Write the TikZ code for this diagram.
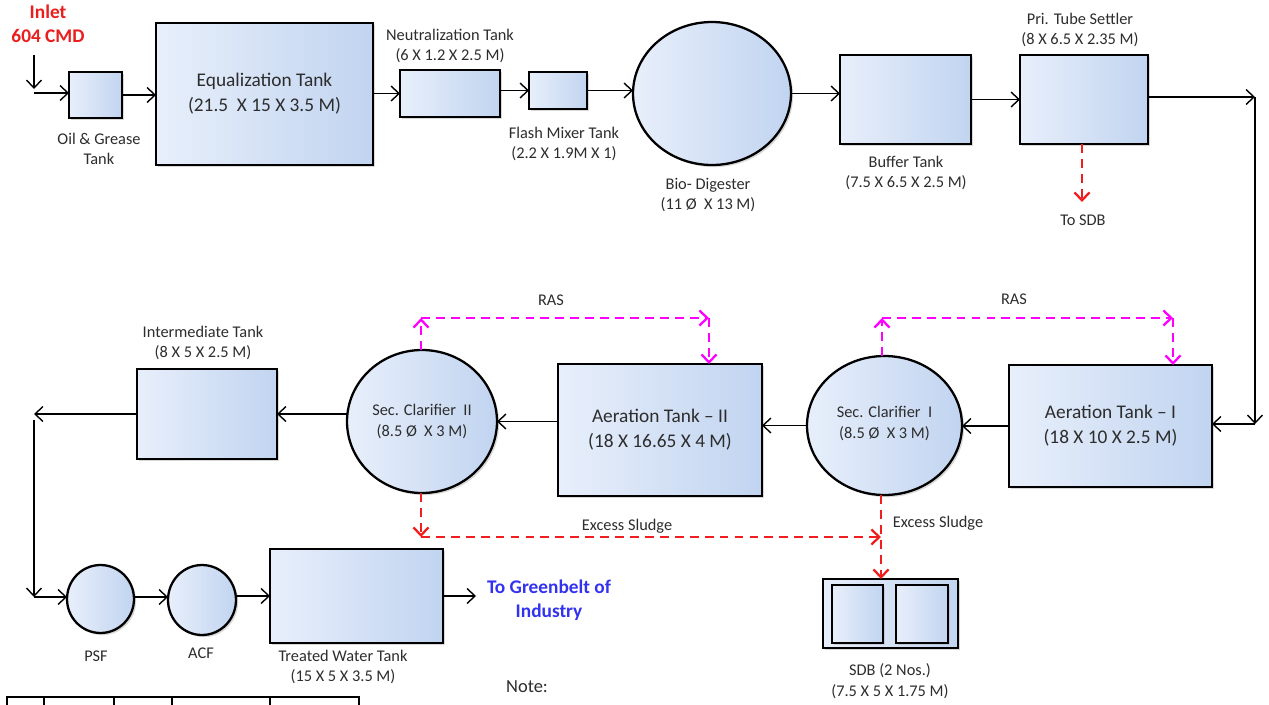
\documentclass[tikz,border=0pt]{standalone}
\usepackage{fontspec}
\setmainfont{Carlito}
\usetikzlibrary{arrows.meta,shapes.geometric,shadows}
\definecolor{boxL}{RGB}{232,239,251}
\definecolor{boxR}{RGB}{193,212,240}
\definecolor{txt}{RGB}{45,45,45}
\definecolor{sludge}{RGB}{240,30,30}
\definecolor{ras}{RGB}{255,0,255}
\definecolor{inletred}{RGB}{235,30,30}
\definecolor{greenblue}{RGB}{50,50,240}
\newcommand\lblfont{\fontsize{9.3pt}{11.6pt}\selectfont}
\newcommand\tankfont{\fontsize{11pt}{14.2pt}\selectfont}
\newcommand\boldfont{\fontsize{11pt}{13.4pt}\selectfont\bfseries}
\tikzset{
  shad/.style={drop shadow={shadow xshift=1.2pt, shadow yshift=-1.2pt, fill=black!30, opacity=0.5}},
  tank/.style={rectangle, draw=black, line width=1.3pt, left color=boxL, right color=boxR,
    inner sep=0pt, outer sep=0pt, font=\tankfont, text=txt, align=center, shad},
  vessel/.style={ellipse, draw=black, line width=1.3pt, left color=boxL, right color=boxR,
    inner sep=0pt, outer sep=0pt, font=\lblfont, text=txt, align=center, shad},
  lbl/.style={font=\lblfont, text=txt, align=center, inner sep=0pt},
  arr/.style={draw=black, line width=0.8pt, -{Straight Barb[length=4.5pt,width=8.5pt]}},
  sl/.style={draw=sludge, line width=1.4pt, dash pattern=on 5pt off 3.5pt,
    -{Straight Barb[length=4.5pt,width=8.5pt,line width=1.3pt]}},
  rs/.style={draw=ras, line width=1.4pt, dash pattern=on 5pt off 3.5pt,
    -{Straight Barb[length=4.5pt,width=8.5pt,line width=1.3pt]}},
}
\begin{document}
\begin{tikzpicture}[x=0.02cm, y=-0.02cm]
\useasboundingbox (0,0) rectangle (1269,704);
\fill[white] (0,0) rectangle (1269,704);

% ---------- top row ----------
\node[tank, minimum width=1.06cm, minimum height=0.92cm] (oil) at (95.5,95) {};
\node[tank, minimum width=4.34cm, minimum height=2.84cm] (eq) at (264.5,94)
  {Equalization Tank\\(21.5~ X 15 X 3.5 M)};
\node[tank, minimum width=2.0cm, minimum height=0.94cm] (neut) at (450,93.5) {};
\node[tank, minimum width=1.16cm, minimum height=0.74cm] (flash) at (558,90.5) {};
\node[vessel, minimum width=3.16cm, minimum height=2.86cm] (bio) at (712,93.5) {};
\node[tank, minimum width=2.62cm, minimum height=1.78cm] (buffer) at (905.5,99.5) {};
\node[tank, minimum width=2.56cm, minimum height=1.78cm] (settler) at (1084,99.5) {};

\node[font=\boldfont, text=inletred, align=center, inner sep=0pt] (inlet) at (48,24) {Inlet\\604 CMD};
\node[lbl] (oillbl) at (99,149) {Oil \& Grease\\Tank};
\node[lbl] (neutlbl) at (450,46) {Neutralization Tank\\(6 X 1.2 X 2.5 M)};
\node[lbl] (flashlbl) at (564,144) {Flash Mixer Tank\\(2.2 X 1.9M X 1)};
\node[lbl] (biolbl) at (708,195) {Bio- Digester\\(11 Ø~ X 13 M)};
\node[lbl] (bufferlbl) at (906,173) {Buffer Tank\\(7.5 X 6.5 X 2.5 M)};
\node[lbl] (settlerlbl) at (1080,30) {Pri. Tube Settler\\(8 X 6.5 X 2.35 M)};
\node[lbl] (tosdb) at (1083,220) {To SDB};

\coordinate (in1) at (34,55);
\coordinate (in2) at (34,89);
\coordinate (in3) at (34,93);
\draw[arr] (in1) -- (in2);
\draw[arr] (in3) -- (in3 -| oil.west);
\draw[arr] (oil.east) -- (oil.east -| eq.west);
\draw[arr] (neut.west -| eq.east) -- (neut.west);
\draw[arr] (flash.west -| neut.east) -- (flash.west);
\draw[arr] (flash.east) -- (flash.east -| bio.west);
\draw[arr] (bio.east) -- (bio.east -| buffer.west);
\draw[arr] (buffer.east) -- (settler.west);
\coordinate (sd1) at (1082,202);
\draw[sl] (settler.south -| sd1) -- (sd1);

\coordinate (c1) at (1255,97);
\coordinate (c2) at (1255,424);
\draw[arr] (c1 -| settler.east) -- (c1);
\draw[arr] (c1) -- (c2);

% ---------- middle row ----------
\node[tank, minimum width=4.06cm, minimum height=2.44cm] (aer1) at (1110.5,426)
  {Aeration Tank – I\\(18 X 10 X 2.5 M)};
\node[vessel, minimum width=3.10cm, minimum height=2.78cm] (clar1) at (884.5,425.5)
  {\raisebox{4pt}{\shortstack{Sec. Clarifier~ I\\[2pt](8.5 Ø~ X 3 M)}}};
\node[tank, minimum width=4.08cm, minimum height=2.64cm] (aer2) at (660,430)
  {Aeration Tank – II\\(18 X 16.65 X 4 M)};
\node[vessel, minimum width=3.0cm, minimum height=2.86cm] (clar2) at (422,421.5)
  {Sec. Clarifier~ II\\(8.5 Ø~ X 3 M)};
\node[tank, minimum width=2.8cm, minimum height=1.8cm] (inter) at (207,414) {};
\node[lbl] (interlbl) at (203,343) {Intermediate Tank\\(8 X 5 X 2.5 M)};

\draw[arr] (c2) -- (c2 -| aer1.east);
\draw[arr] (aer1.west) -- (aer1.west -| clar1.east);
\draw[arr] (clar1.west) -- (clar1.west -| aer2.east);
\draw[arr] (clar2.east -| aer2.west) -- (clar2.east);
\draw[arr] (inter.east -| clar2.west) -- (inter.east);
\coordinate (c3) at (34,414);
\coordinate (c3b) at (34,420);
\coordinate (c4) at (34,597);
\draw[arr] (inter.west) -- (c3);
\draw[arr] (c3b) -- (c4);

% RAS loops
\coordinate (r1) at (882,318);
\coordinate (r2) at (1173,318);
\draw[rs] (clar1.north -| r1) -- (r1);
\draw[rs] (r1) -- (r2);
\draw[rs] (r2) -- (r2 |- aer1.north);
\node[lbl] (ras1) at (1014,299) {RAS};
\coordinate (r3) at (421,318);
\coordinate (r4) at (709,318);
\draw[rs] (clar2.north -| r3) -- (r3);
\draw[rs] (r3) -- (r4);
\draw[rs] (r4) -- (r4 |- aer2.north);
\node[lbl] (ras2) at (551,300) {RAS};

% Excess sludge
\coordinate (e1) at (421,537);
\coordinate (e2) at (881,537);
\draw[sl] (clar2.south -| e1) -- (e1);
\draw[sl] (e1) -- (e2);
\node[lbl] (exs1) at (627,526) {Excess Sludge};
\node[lbl] (exs2) at (938,523) {Excess Sludge};

% ---------- bottom row ----------
\node[vessel, minimum width=1.34cm, minimum height=1.36cm] (psf) at (100.5,599) {};
\node[vessel, minimum width=1.36cm, minimum height=1.40cm] (acf) at (202,600) {};
\node[tank, minimum width=3.46cm, minimum height=1.88cm] (treated) at (356.5,596) {};
\node[lbl] (psflbl) at (96,656) {PSF};
\node[lbl] (acflbl) at (201,653) {ACF};
\node[lbl] (treatedlbl) at (343,667) {Treated Water Tank\\(15 X 5 X 3.5 M)};
\node[font=\boldfont, text=greenblue, align=center, inner sep=0pt] (green) at (549,600)
  {To Greenbelt of\\Industry};
\coordinate (out) at (476,596);

\draw[arr] (c4) -- (c4 -| psf.west);
\draw[arr] (psf.east |- 0,597) -- (acf.west |- 0,597);
\draw[arr] (acf.east |- treated.west) -- (treated.west);
\draw[arr] (treated.east) -- (out);

% SDB
\node[tank, minimum width=2.7cm, minimum height=1.38cm] (sdb) at (890.5,613.5) {};
\node[tank, minimum width=1.02cm, minimum height=1.16cm] (sdbA) at (857.5,614) {};
\node[tank, minimum width=1.04cm, minimum height=1.16cm] (sdbB) at (922,614) {};
\node[lbl] (sdblbl) at (890,681) {SDB (2 Nos.)\\(7.5 X 5 X 1.75 M)};
\draw[sl] (clar1.south -| e2) -- (e2 |- sdb.north);

% Note and partial table
\node[font=\fontsize{10.5pt}{12pt}\selectfont, text=txt, inner sep=0pt] (note) at (527,687) {Note:};
\draw[line width=0.8pt] (7,706) -- (7,697) -- (359,697) -- (359,706);
\foreach \xx in {44,114,172,270} \draw[line width=0.8pt] (\xx,697) -- (\xx,706);
\end{tikzpicture}
\end{document}
